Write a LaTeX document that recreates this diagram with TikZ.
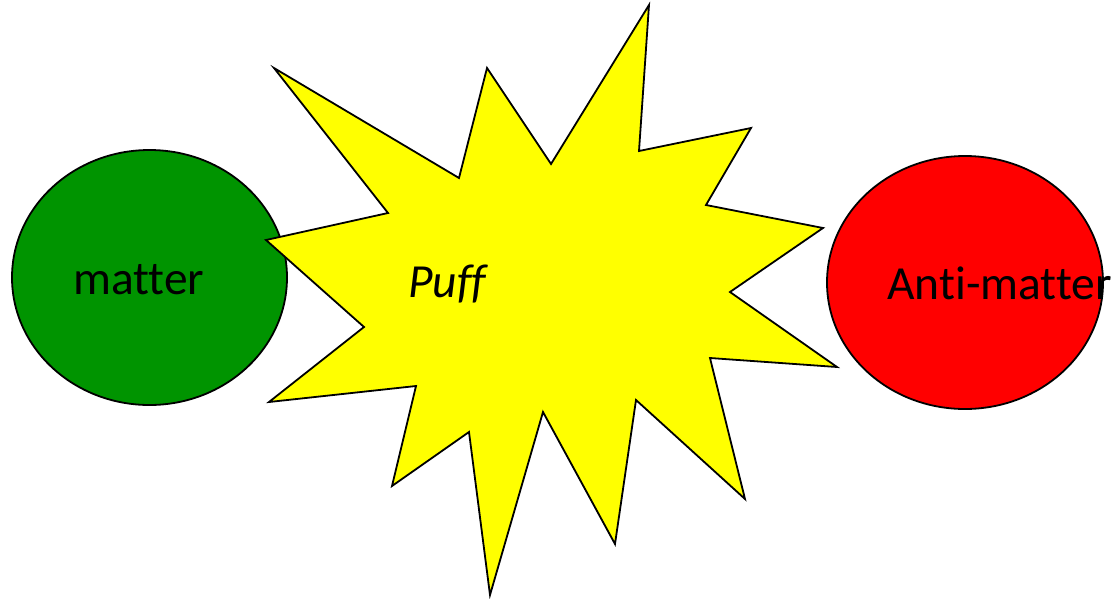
\documentclass[tikz,border=0pt]{standalone}
\usepackage{fontspec}
\setmainfont[Ligatures=NoCommon]{Carlito}
\usetikzlibrary{shapes.geometric}
\definecolor{mattergreen}{RGB}{0,148,0}
\definecolor{antired}{RGB}{255,0,0}
\definecolor{puffyellow}{RGB}{255,255,0}
\tikzset{
  blob/.style={ellipse, draw=black, line width=1.8pt, inner sep=0pt},
  burst/.style={draw=black, fill=puffyellow, line width=1.8pt, line join=miter},
  label/.style={inner sep=0pt, font=\fontsize{47.5}{57}\selectfont, anchor=base west}
}
\begin{document}
\begin{tikzpicture}[x=1pt,y=-1pt]
\useasboundingbox (0,0) rectangle (1117,598);
\node[blob, fill=mattergreen, minimum width=275pt, minimum height=255pt] (matter) at (149.5,277.5) {};
\node[blob, fill=antired, minimum width=276pt, minimum height=253pt] (anti) at (965,282.5) {};
\draw[burst] (649,5) -- (639,151) -- (751,128) -- (706,205) -- (823,228) -- (730,292)
  -- (837,367) -- (710,358) -- (745,499) -- (636,400) -- (615,544) -- (543,412)
  -- (490,595) -- (469,432) -- (392,486) -- (416,386) -- (269,402) -- (364,327)
  -- (266,240) -- (388,213) -- (274,68) -- (459,178) -- (487,68) -- (551,164) -- cycle;
\node[label] (mattertext) at (73,294) {matter};
\node[label] (antitext) at (887,299) {Anti-matter};
\node[label, font=\fontsize{47.5}{57}\selectfont\itshape] (puff) at (408,297) {Puff};
\end{tikzpicture}
\end{document}
